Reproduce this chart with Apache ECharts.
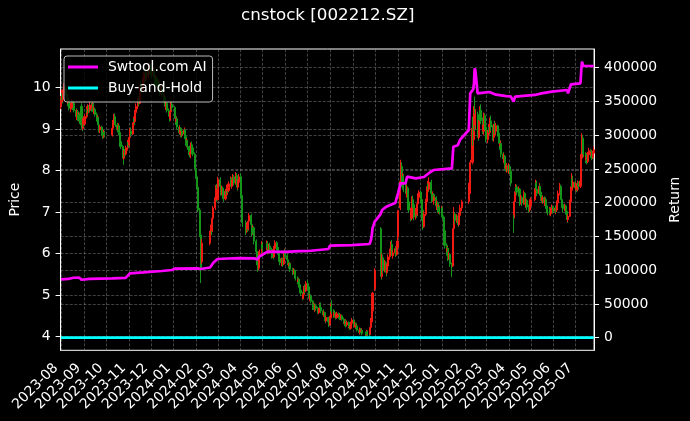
<!DOCTYPE html>
<html><head><meta charset="utf-8">
<script src="https://cdn.jsdelivr.net/npm/echarts@6/dist/echarts.min.js"></script>
<style>html,body{margin:0;padding:0;background:#000;}#c{width:690px;height:421px;}</style>
</head><body><div id="c"></div>
<script>
// Daily candles per month: [day, open, close, low, high]
const m2023_07 = [[31,9.55,9.72,9.48,9.80]];
const m2023_08 = [[1,9.72,9.85,9.66,9.95],[2,9.85,9.70,9.62,9.90],[3,9.70,9.88,9.65,9.96],[4,9.88,10.02,9.80,10.10],[7,10.00,9.86,9.80,10.06],[8,9.86,9.74,9.66,9.90],[9,9.74,9.62,9.55,9.78],[10,9.62,9.70,9.52,9.76],[11,9.70,9.50,9.45,9.74],[14,9.48,9.58,9.40,9.63],[15,9.58,9.66,9.50,9.72],[16,9.66,9.52,9.46,9.70],[17,9.52,9.62,9.45,9.68],[18,9.62,9.45,9.40,9.66],[21,9.45,9.30,9.25,9.50],[22,9.30,9.42,9.22,9.48],[23,9.42,9.25,9.20,9.46],[24,9.25,9.35,9.18,9.40],[25,9.35,9.20,9.12,9.40],[28,9.55,9.10,9.02,9.62],[29,9.10,9.02,8.95,9.18],[30,9.02,9.20,8.98,9.26],[31,9.20,9.12,9.05,9.28]];
const m2023_09 = [[1,9.12,9.30,9.08,9.36],[4,9.30,9.48,9.25,9.55],[5,9.48,9.40,9.33,9.55],[6,9.40,9.52,9.36,9.60],[7,9.52,9.45,9.38,9.58],[8,9.45,9.58,9.40,9.65],[11,9.58,9.50,9.42,9.64],[12,9.50,9.60,9.45,9.66],[13,9.60,9.42,9.38,9.63],[14,9.42,9.48,9.36,9.55],[15,9.48,9.35,9.30,9.52],[18,9.35,9.22,9.18,9.40],[19,9.22,9.28,9.15,9.33],[20,9.28,9.10,9.05,9.30],[21,9.10,8.98,8.92,9.14],[22,8.98,9.05,8.90,9.10],[25,9.05,8.90,8.84,9.08],[26,8.90,8.82,8.76,8.95],[27,8.82,8.92,8.78,8.98],[28,8.92,8.86,8.80,8.96]];
const m2023_10 = [[9,8.86,9.02,8.82,9.08],[10,9.02,9.15,8.98,9.22],[11,9.15,9.30,9.10,9.36],[12,9.30,9.22,9.15,9.38],[13,9.22,9.10,9.05,9.28],[16,9.10,8.98,8.92,9.15],[17,8.98,9.08,8.94,9.14],[18,9.08,8.92,8.86,9.10],[19,8.92,8.70,8.66,8.95],[20,8.70,8.58,8.52,8.76],[23,8.58,8.36,8.30,8.62],[24,8.36,8.30,8.14,8.45],[25,8.30,8.45,8.26,8.50],[26,8.45,8.40,8.34,8.52],[27,8.40,8.55,8.36,8.60],[30,8.55,8.68,8.48,8.74],[31,8.68,8.62,8.55,8.75]];
const m2023_11 = [[1,8.62,8.80,8.58,8.86],[2,8.80,8.95,8.74,9.02],[3,8.95,8.88,8.82,9.04],[6,8.88,9.10,8.86,9.16],[7,9.10,9.25,9.05,9.30],[8,9.25,9.18,9.10,9.32],[9,9.18,9.40,9.15,9.46],[10,9.40,9.55,9.35,9.62],[13,9.55,9.68,9.48,9.75],[14,9.68,9.62,9.55,9.78],[15,9.62,9.85,9.60,9.92],[16,9.85,10.05,9.80,10.12],[17,10.05,9.96,9.90,10.15],[20,9.96,10.18,9.92,10.25],[21,10.18,10.30,10.10,10.38],[22,10.30,10.20,10.12,10.36],[23,10.20,10.35,10.15,10.42],[24,10.35,10.28,10.20,10.45],[27,10.28,10.45,10.22,10.52],[28,10.45,10.36,10.30,10.55],[29,10.36,10.50,10.32,10.60],[30,10.50,10.40,10.32,10.56]];
const m2023_12 = [[1,10.40,10.30,10.22,10.48],[4,10.30,10.42,10.25,10.50],[5,10.42,10.25,10.18,10.45],[6,10.25,10.15,10.08,10.32],[7,10.15,10.22,10.06,10.30],[8,10.22,10.05,10.00,10.28],[11,10.05,10.12,9.98,10.20],[12,10.12,9.95,9.90,10.15],[13,9.95,9.88,9.80,10.02],[14,9.88,9.98,9.82,10.05],[15,9.98,9.85,9.78,10.02],[18,9.85,9.70,9.64,9.88],[19,9.70,9.78,9.62,9.84],[20,9.78,9.55,9.50,9.80],[21,9.55,9.62,9.46,9.68],[22,9.62,9.45,9.40,9.66],[25,9.45,9.38,9.30,9.50],[26,9.38,9.25,9.18,9.42],[27,9.25,9.42,9.20,9.48],[28,9.42,9.60,9.38,9.68],[29,9.60,9.52,9.45,9.66]];
const m2024_01 = [[2,9.52,9.30,9.25,9.56],[3,9.30,9.18,9.10,9.35],[4,9.18,9.25,9.08,9.30],[5,9.25,9.05,9.00,9.28],[8,9.05,8.92,8.86,9.10],[9,8.92,9.02,8.88,9.08],[10,9.02,8.85,8.80,9.05],[11,8.85,8.95,8.80,9.00],[12,8.95,8.88,8.82,9.00],[15,8.88,8.98,8.84,9.04],[16,8.98,8.82,8.76,9.00],[17,8.82,8.65,8.60,8.85],[18,8.65,8.72,8.56,8.78],[19,8.72,8.58,8.50,8.75],[22,8.58,8.38,8.32,8.60],[23,8.38,8.45,8.30,8.52],[24,8.45,8.62,8.40,8.68],[25,8.62,8.55,8.48,8.70],[26,8.55,8.40,8.35,8.58],[29,8.40,8.20,8.15,8.44],[30,8.20,8.05,7.98,8.24],[31,8.05,7.85,7.80,8.10]];
const m2024_02 = [[1,7.85,7.60,7.55,7.90],[2,7.60,7.05,7.00,7.65],[5,7.05,6.45,6.40,7.10],[6,6.45,5.95,5.29,6.60],[7,5.95,5.80,5.60,6.30],[8,5.80,6.25,5.75,6.35],[19,6.25,6.45,6.20,6.55],[20,6.45,6.62,6.40,6.70],[21,6.62,6.55,6.45,6.72],[22,6.55,6.85,6.52,6.90],[23,6.85,7.10,6.80,7.15],[26,7.10,7.35,7.05,7.42],[27,7.35,7.60,7.30,7.65],[28,7.60,7.30,7.25,7.68],[29,7.30,7.55,7.28,7.62]];
const m2024_03 = [[1,7.55,7.78,7.50,7.85],[4,7.78,7.62,7.55,7.84],[5,7.62,7.45,7.40,7.68],[6,7.45,7.58,7.40,7.64],[7,7.58,7.40,7.35,7.62],[8,7.40,7.32,7.25,7.46],[11,7.32,7.50,7.28,7.56],[12,7.50,7.42,7.36,7.58],[13,7.42,7.60,7.38,7.66],[14,7.60,7.52,7.45,7.66],[15,7.52,7.68,7.48,7.74],[18,7.68,7.80,7.62,7.86],[19,7.80,7.62,7.58,7.84],[20,7.62,7.72,7.56,7.78],[21,7.72,7.85,7.66,7.92],[22,7.85,7.70,7.64,7.90],[25,7.70,7.88,7.66,7.96],[26,7.88,7.75,7.70,7.94],[27,7.75,7.60,7.52,7.80],[28,7.60,7.72,7.55,7.78],[29,7.72,7.85,7.68,7.92]];
const m2024_04 = [[1,7.85,7.40,7.35,7.94],[2,7.40,6.95,6.90,7.45],[3,6.95,6.75,6.64,7.05],[8,6.75,6.55,6.45,6.80],[9,6.55,6.68,6.50,6.75],[10,6.68,6.60,6.52,6.78],[11,6.60,6.78,6.56,6.85],[12,6.78,6.92,6.72,6.98],[15,6.92,6.70,6.65,6.96],[16,6.70,6.50,6.42,6.74],[17,6.50,6.62,6.45,6.68],[18,6.62,6.48,6.40,6.66],[19,6.48,6.30,6.22,6.52],[22,6.30,6.05,6.00,6.34],[23,6.05,5.80,5.72,6.10],[24,5.80,5.65,5.56,5.86],[25,5.65,5.85,5.60,5.90],[26,5.85,6.05,5.80,6.10],[29,6.05,6.22,6.00,6.30],[30,6.22,6.12,6.05,6.28]];
const m2024_05 = [[6,6.12,6.25,6.08,6.32],[7,6.25,6.15,6.08,6.30],[8,6.15,6.05,5.98,6.20],[9,6.05,6.18,6.00,6.24],[10,6.18,6.10,6.02,6.26],[13,6.10,5.95,5.88,6.14],[14,5.95,6.05,5.90,6.10],[15,6.05,5.92,5.86,6.08],[16,5.92,6.12,5.90,6.18],[17,6.12,6.26,6.08,6.32],[20,6.26,6.15,6.08,6.30],[21,6.15,6.05,5.98,6.20],[22,6.05,5.98,5.92,6.10],[23,5.98,5.88,5.80,6.02],[24,5.88,5.78,5.72,5.92],[27,5.78,5.85,5.70,5.90],[28,5.85,5.75,5.68,5.90],[29,5.75,5.92,5.72,5.98],[30,5.92,6.05,5.88,6.12],[31,6.05,5.95,5.90,6.10]];
const m2024_06 = [[3,5.95,5.85,5.80,6.00],[4,5.85,5.78,5.72,5.90],[5,5.78,5.70,5.64,5.82],[6,5.70,5.76,5.65,5.80],[7,5.76,5.62,5.56,5.78],[11,5.62,5.55,5.48,5.66],[12,5.55,5.60,5.50,5.65],[13,5.60,5.48,5.42,5.62],[14,5.48,5.40,5.35,5.52],[17,5.40,5.32,5.26,5.45],[18,5.32,5.38,5.28,5.42],[19,5.38,5.25,5.18,5.40],[20,5.25,5.12,5.08,5.28],[21,5.12,5.05,4.98,5.16],[24,5.05,4.92,4.88,5.08],[25,4.92,5.02,4.90,5.06],[26,5.02,5.18,4.98,5.22],[27,5.18,5.10,5.05,5.26],[28,5.10,5.28,5.08,5.34]];
const m2024_07 = [[1,5.28,5.20,5.12,5.36],[2,5.20,5.05,5.00,5.24],[3,5.05,4.92,4.86,5.08],[4,4.92,4.98,4.85,5.02],[5,4.98,4.85,4.80,5.02],[8,4.85,4.70,4.64,4.88],[9,4.70,4.78,4.66,4.82],[10,4.78,4.65,4.60,4.80],[11,4.65,4.74,4.60,4.78],[12,4.74,4.68,4.62,4.78],[15,4.68,4.58,4.55,4.72],[16,4.58,4.66,4.54,4.70],[17,4.66,4.78,4.62,4.82],[18,4.78,4.70,4.64,4.82],[19,4.70,4.62,4.56,4.74],[22,4.62,4.52,4.48,4.66],[23,4.52,4.58,4.48,4.62],[24,4.58,4.45,4.40,4.60],[25,4.45,4.38,4.32,4.48],[26,4.38,4.46,4.34,4.50],[29,4.46,4.36,4.30,4.48],[30,4.36,4.28,4.23,4.40],[31,4.28,4.45,4.26,4.50]];
const m2024_08 = [[1,4.45,4.72,4.42,4.80],[2,4.72,4.62,4.55,4.88],[5,4.62,4.50,4.45,4.66],[6,4.50,4.58,4.46,4.62],[7,4.58,4.52,4.47,4.63],[8,4.52,4.46,4.41,4.56],[9,4.46,4.55,4.43,4.60],[12,4.55,4.48,4.43,4.58],[13,4.48,4.52,4.44,4.56],[14,4.52,4.44,4.40,4.55],[15,4.44,4.50,4.40,4.54],[16,4.50,4.42,4.38,4.53],[19,4.42,4.36,4.30,4.46],[20,4.36,4.30,4.25,4.40],[21,4.30,4.38,4.27,4.42],[22,4.38,4.28,4.22,4.40],[23,4.28,4.34,4.24,4.38],[26,4.34,4.25,4.20,4.37],[27,4.25,4.20,4.16,4.29],[28,4.20,4.26,4.17,4.30],[29,4.26,4.32,4.22,4.36],[30,4.32,4.40,4.28,4.45]];
const m2024_09 = [[2,4.40,4.28,4.24,4.42],[3,4.28,4.32,4.22,4.36],[4,4.32,4.22,4.18,4.34],[5,4.22,4.26,4.18,4.30],[6,4.26,4.16,4.12,4.28],[9,4.16,4.10,4.05,4.19],[10,4.10,4.18,4.06,4.22],[11,4.18,4.12,4.08,4.21],[12,4.12,4.15,4.07,4.20],[13,4.15,4.08,4.03,4.17],[18,4.08,4.02,4.00,4.12],[19,4.02,4.12,4.00,4.16],[20,4.12,4.06,4.02,4.15],[23,4.06,4.04,4.00,4.10],[24,4.06,4.22,4.04,4.26],[25,4.22,4.35,4.20,4.45],[26,4.35,4.62,4.32,4.66],[27,4.62,5.05,4.58,5.08],[30,5.15,5.60,5.10,5.65]];
const m2024_10 = [[8,6.60,6.00,5.90,6.64],[9,6.00,5.45,5.37,6.05],[10,5.45,5.90,5.40,6.00],[11,5.90,5.60,5.52,5.98],[14,5.60,5.78,5.55,5.85],[15,5.78,5.62,5.55,5.82],[16,5.62,5.55,5.45,5.68],[17,5.55,5.70,5.50,5.76],[18,5.70,5.92,5.66,5.98],[21,5.92,6.05,5.85,6.12],[22,6.05,6.22,6.00,6.30],[23,6.22,6.10,6.02,6.33],[24,6.10,5.95,5.90,6.14],[25,5.95,6.02,5.88,6.08],[28,6.02,6.12,5.96,6.18],[29,6.12,5.98,5.92,6.16],[30,5.98,6.15,5.95,6.20],[31,6.15,6.30,6.10,6.38]];
const m2024_11 = [[1,6.40,7.04,6.35,7.04],[4,7.10,7.74,7.05,7.74],[5,7.74,8.10,7.60,8.26],[6,8.10,7.70,7.60,8.20],[7,7.70,7.85,7.55,7.95],[8,7.85,7.55,7.48,7.92],[11,7.55,7.70,7.45,7.78],[12,7.70,7.45,7.38,7.75],[13,7.45,7.58,7.35,7.65],[14,7.58,7.25,7.18,7.62],[15,7.25,7.05,6.98,7.30],[18,7.05,6.85,6.78,7.10],[19,6.85,7.10,6.80,7.18],[20,7.10,7.30,7.05,7.38],[21,7.30,7.18,7.10,7.40],[22,7.18,6.88,6.80,7.22],[25,6.88,7.02,6.82,7.10],[26,7.02,6.95,6.86,7.08],[27,6.95,7.20,6.90,7.26],[28,7.20,7.35,7.12,7.45],[29,7.35,7.48,7.28,7.53]];
const m2024_12 = [[2,7.48,7.30,7.22,7.52],[3,7.30,7.05,6.98,7.35],[4,7.05,6.80,6.70,7.08],[5,6.80,6.65,6.57,6.88],[6,6.65,6.95,6.62,7.02],[9,6.95,7.25,6.90,7.32],[10,7.25,7.50,7.20,7.62],[11,7.50,7.68,7.42,7.75],[12,7.68,7.55,7.48,7.80],[13,7.55,7.72,7.50,7.84],[16,7.72,7.45,7.38,7.78],[17,7.45,7.30,7.22,7.50],[18,7.30,7.42,7.25,7.50],[19,7.42,7.28,7.20,7.46],[20,7.28,7.35,7.18,7.40],[23,7.35,7.15,7.08,7.38],[24,7.15,7.22,7.05,7.28],[25,7.22,7.05,6.98,7.26],[26,7.05,7.12,6.96,7.18],[27,7.12,7.00,6.94,7.16],[30,7.00,7.10,6.92,7.15],[31,7.10,6.88,6.82,7.12]];
const m2025_01 = [[2,6.88,6.55,6.48,6.92],[3,6.55,6.20,6.12,6.60],[6,6.20,6.05,5.95,6.25],[7,6.05,6.12,5.96,6.18],[8,6.12,5.90,5.82,6.16],[9,5.90,5.98,5.85,6.04],[10,5.98,5.75,5.68,6.00],[13,5.75,5.70,5.44,5.78],[14,5.70,6.27,5.68,6.27],[15,6.27,6.60,6.20,6.80],[16,6.60,6.95,6.55,7.12],[17,6.95,6.80,6.72,7.00],[20,6.80,6.88,6.74,6.95],[21,6.88,6.76,6.70,6.92],[22,6.76,6.70,6.64,6.82],[23,6.70,6.92,6.66,6.98],[24,6.92,7.10,6.88,7.18],[27,7.10,7.25,7.02,7.30]];
const m2025_02 = [[5,7.25,7.45,7.20,7.52],[6,7.45,7.70,7.40,7.75],[7,7.70,8.20,7.65,8.26],[10,8.20,9.02,8.15,9.02],[11,9.02,8.75,8.60,9.30],[12,8.75,9.40,8.70,9.55],[13,9.40,9.10,8.95,9.78],[14,9.10,9.35,9.00,9.48],[17,9.35,9.05,8.95,9.42],[18,9.05,8.80,8.72,9.10],[19,8.80,9.15,8.76,9.22],[20,9.15,9.45,9.10,9.55],[21,9.45,9.20,9.12,9.60],[24,9.20,8.95,8.88,9.28],[25,8.95,9.10,8.85,9.18],[26,9.10,9.32,9.05,9.40],[27,9.32,9.05,8.98,9.38],[28,9.05,8.75,8.68,9.10]];
const m2025_03 = [[3,8.75,8.90,8.66,8.98],[4,8.90,9.05,8.80,9.12],[5,9.05,8.92,8.85,9.15],[6,8.92,9.20,8.88,9.28],[7,9.20,9.05,8.95,9.33],[10,9.05,8.80,8.72,9.10],[11,8.80,8.95,8.70,9.02],[12,8.95,9.12,8.90,9.20],[13,9.12,8.95,8.88,9.18],[14,8.95,9.08,8.86,9.15],[17,9.08,8.90,8.82,9.11],[18,8.90,8.72,8.65,8.95],[19,8.72,8.60,8.50,8.78],[20,8.60,8.65,8.52,8.72],[21,8.65,8.40,8.32,8.67],[24,8.40,8.28,8.20,8.45],[25,8.28,8.35,8.18,8.42],[26,8.35,8.15,8.08,8.38],[27,8.15,8.05,7.98,8.22],[28,8.05,8.12,7.95,8.18],[31,8.12,7.98,7.92,8.15]];
const m2025_04 = [[1,7.98,8.10,7.92,8.18],[2,8.10,7.98,7.92,8.14],[3,7.98,7.70,7.62,8.00],[7,7.20,6.93,6.50,7.25],[8,6.93,7.25,6.85,7.30],[9,7.25,7.45,7.05,7.50],[10,7.45,7.60,7.38,7.68],[11,7.60,7.48,7.40,7.66],[14,7.48,7.55,7.40,7.62],[15,7.55,7.38,7.30,7.58],[16,7.38,7.25,7.15,7.42],[17,7.25,7.35,7.18,7.42],[18,7.35,7.22,7.15,7.40],[21,7.22,7.45,7.18,7.52],[22,7.45,7.30,7.22,7.48],[23,7.30,7.18,7.10,7.35],[24,7.18,7.28,7.12,7.34],[25,7.28,7.12,7.05,7.32],[28,7.12,7.05,6.98,7.18],[29,7.05,7.15,7.00,7.22],[30,7.15,7.30,7.10,7.36]];
const m2025_05 = [[6,7.30,7.52,7.26,7.58],[7,7.52,7.70,7.45,7.78],[8,7.70,7.55,7.48,7.76],[9,7.55,7.45,7.38,7.60],[12,7.45,7.62,7.40,7.70],[13,7.62,7.48,7.40,7.66],[14,7.48,7.40,7.32,7.52],[15,7.40,7.28,7.22,7.45],[16,7.28,7.35,7.20,7.40],[19,7.35,7.22,7.15,7.38],[20,7.22,7.30,7.15,7.35],[21,7.30,7.15,7.08,7.32],[22,7.15,7.05,6.98,7.18],[23,7.05,6.98,6.92,7.10],[26,6.98,7.08,6.92,7.12],[27,7.08,6.96,6.90,7.12],[28,6.96,7.05,6.90,7.10],[29,7.05,7.12,6.98,7.18],[30,7.12,7.02,6.96,7.16]];
const m2025_06 = [[3,7.02,7.10,6.95,7.15],[4,7.10,7.05,6.98,7.16],[5,7.05,7.22,7.00,7.28],[6,7.22,7.45,7.18,7.52],[9,7.45,7.62,7.40,7.70],[10,7.62,7.40,7.32,7.66],[11,7.40,7.30,7.22,7.45],[12,7.30,7.18,7.10,7.36],[13,7.18,7.08,7.00,7.22],[16,7.08,7.15,7.02,7.20],[17,7.15,7.02,6.95,7.18],[18,7.02,6.95,6.88,7.06],[19,6.95,6.82,6.74,6.98],[20,6.82,6.90,6.76,6.95],[23,6.90,7.25,6.88,7.30],[24,7.25,7.55,7.20,7.62],[25,7.55,7.80,7.50,7.94],[26,7.80,7.60,7.55,7.88],[27,7.60,7.72,7.52,7.78],[30,7.72,7.58,7.50,7.76]];
const m2025_07 = [[1,7.58,7.65,7.50,7.72],[2,7.65,7.55,7.48,7.70],[3,7.55,7.68,7.50,7.76],[4,7.68,7.62,7.55,7.74],[7,7.62,7.75,7.58,7.80],[8,7.75,8.30,7.70,8.40],[9,8.30,8.78,8.25,8.90],[10,8.78,8.55,8.48,8.86],[11,8.55,8.40,8.32,8.62],[14,8.40,8.25,8.18,8.45],[15,8.25,8.35,8.18,8.42],[16,8.35,8.22,8.15,8.40],[17,8.22,8.38,8.18,8.45],[18,8.38,8.48,8.30,8.55],[21,8.48,8.36,8.30,8.52],[22,8.36,8.45,8.30,8.50],[23,8.45,8.32,8.25,8.48],[24,8.32,8.42,8.28,8.48],[25,8.42,8.50,8.35,8.58]];

const monthKeys = ['2023-07','2023-08','2023-09','2023-10','2023-11','2023-12','2024-01','2024-02','2024-03','2024-04','2024-05','2024-06','2024-07','2024-08','2024-09','2024-10','2024-11','2024-12','2025-01','2025-02','2025-03','2025-04','2025-05','2025-06','2025-07'];
const monthData = [m2023_07,m2023_08,m2023_09,m2023_10,m2023_11,m2023_12,m2024_01,m2024_02,m2024_03,m2024_04,m2024_05,m2024_06,m2024_07,m2024_08,m2024_09,m2024_10,m2024_11,m2024_12,m2025_01,m2025_02,m2025_03,m2025_04,m2025_05,m2025_06,m2025_07];

// Strategy return line (read at turning points)
const aiDates = ['2023-07-31','2023-08-10','2023-08-17','2023-08-25','2023-08-28','2023-09-08','2023-10-09','2023-10-27','2023-10-30','2023-11-02','2023-11-20','2023-12-15','2023-12-29','2024-01-02','2024-02-02','2024-02-06','2024-02-08','2024-02-19','2024-02-23','2024-02-29','2024-03-15','2024-03-29','2024-04-19','2024-04-23','2024-04-26','2024-05-07','2024-05-31','2024-06-20','2024-07-02','2024-07-03','2024-07-29','2024-07-31','2024-08-30','2024-09-23','2024-09-24','2024-09-25','2024-09-26','2024-09-27','2024-09-30','2024-10-08','2024-10-10','2024-10-16','2024-10-21','2024-10-28','2024-11-01','2024-11-04','2024-11-11','2024-11-13','2024-11-25','2024-12-06','2024-12-13','2024-12-19','2025-01-13','2025-01-15','2025-01-17','2025-01-21','2025-01-24','2025-02-05','2025-02-06','2025-02-07','2025-02-11','2025-02-12','2025-02-13','2025-02-14','2025-02-17','2025-03-05','2025-03-14','2025-03-28','2025-04-03','2025-04-07','2025-04-09','2025-05-06','2025-05-15','2025-05-29','2025-06-19','2025-06-20','2025-06-24','2025-07-07','2025-07-08','2025-07-09','2025-07-11','2025-07-25'];
const aiValues = [86500,87000,88800,88900,85800,87200,87800,88600,92000,95400,96800,98800,100300,102200,102600,101800,102500,104000,110500,116600,117300,117800,117600,115800,120000,127400,127000,128200,128400,131000,131400,136300,137200,138800,137500,145000,152000,162000,172000,183000,189200,194100,196600,199600,215000,228700,228700,238500,236100,238000,244000,248400,250900,283000,281500,285000,293000,307700,335000,362000,368000,376000,399000,396000,362000,364000,360000,358000,357500,349600,357000,359600,362000,364500,367000,362000,375400,376900,395000,408900,402500,402500];
const bhDates = ['2023-07-31','2024-07-31','2025-07-25'];
const bhValues = [0,0,0];

const priceTicks = [4,5,6,7,8,9,10];
const returnTicks = [0,50000,100000,150000,200000,250000,300000,350000,400000];
const seriesNames = ['Swtool.com AI','Buy-and-Hold'];
const titleText = 'cnstock [002212.SZ]';

// calendar-day category axis
const days = [];
for (let t = Date.UTC(2023,6,31); t <= Date.UTC(2025,6,25); t += 86400000) days.push(new Date(t).toISOString().slice(0,10));
const dayIndex = {};
days.forEach((d,i) => dayIndex[d] = i);
const candleRows = days.map(() => ['-','-','-','-']);
monthKeys.forEach((mk,k) => monthData[k].forEach(r => {
  const ds = mk + '-' + String(r[0]).padStart(2,'0');
  candleRows[dayIndex[ds]] = [r[1], r[2], r[3], r[4]];
}));
const aiData = aiDates.map((d,i) => [dayIndex[d], aiValues[i]]);
const bhData = bhDates.map((d,i) => [dayIndex[d], bhValues[i]]);

const isMonthStart = (i, v) => v.slice(8) === '01';
const FONT = 'DejaVu Sans';
const gridLine = { show: true, lineStyle: { color: 'rgba(150,150,150,0.55)', width: 0.8, type: [3, 1.6] } };

const chart = echarts.init(document.getElementById('c'), null, { renderer: 'canvas' });
chart.setOption({
  animation: false,
  backgroundColor: '#000',
  textStyle: { fontFamily: FONT },
  title: { text: titleText, left: 241, top: 7, padding: 0,
    textStyle: { color: '#fff', fontSize: 16.7, fontWeight: 'normal', fontFamily: FONT } },
  legend: {
    orient: 'vertical', left: 64, top: 56, padding: [3, 6, 6, 4], itemGap: 5,
    itemWidth: 30, itemHeight: 3, icon: 'rect',
    backgroundColor: 'rgba(0,0,0,0.8)', borderColor: '#bbb', borderWidth: 1, borderRadius: 3,
    textStyle: { color: '#fff', fontSize: 13.9, fontFamily: FONT, lineHeight: 16, padding: [0,0,0,5] },
    data: seriesNames
  },
  grid: { left: 58, top: 49, width: 539.6, height: 301.3, show: true, borderColor: '#fff', borderWidth: 1, backgroundColor: '#000' },
  xAxis: {
    type: 'category', data: days, boundaryGap: true,
    axisLine: { lineStyle: { color: '#fff', width: 1 } },
    axisTick: { interval: isMonthStart, alignWithLabel: true, length: 5, lineStyle: { color: '#fff' } },
    axisLabel: { interval: isMonthStart, rotate: 45, margin: 10, padding: [0, 8, 0, 0],
      formatter: v => v.slice(0,7), color: '#fff', fontSize: 13.9, fontFamily: FONT },
    splitLine: Object.assign({ interval: isMonthStart }, gridLine)
  },
  yAxis: [{
    type: 'value', position: 'left', min: 3.67, max: 10.93, scale: true,
    name: 'Price', nameLocation: 'middle', nameGap: 34, nameRotate: 90,
    nameTextStyle: { color: '#fff', fontSize: 13.9, fontFamily: FONT },
    axisLine: { show: true, lineStyle: { color: '#fff' } },
    axisTick: { show: true, length: 5, customValues: priceTicks, lineStyle: { color: '#fff' } },
    axisLabel: { customValues: priceTicks, margin: 10, color: '#fff', fontSize: 13.9, fontFamily: FONT,
      formatter: v => String(v) },
    splitLine: gridLine
  }, {
    type: 'value', position: 'right', min: -18700, max: 427700,
    name: 'Return', nameLocation: 'middle', nameGap: 69, nameRotate: 90,
    nameTextStyle: { color: '#fff', fontSize: 13.9, fontFamily: FONT },
    axisLine: { show: true, lineStyle: { color: '#fff' } },
    axisTick: { show: true, length: 5, customValues: returnTicks, lineStyle: { color: '#fff' } },
    axisLabel: { customValues: returnTicks, margin: 10, color: '#fff', fontSize: 13.9, fontFamily: FONT,
      formatter: v => String(Math.round(v)) },
    splitLine: gridLine
  }],
  series: [{
    type: 'candlestick', name: 'Price', data: candleRows, large: false, xAxisIndex: 0, yAxisIndex: 0,
    barWidth: 1.6, z: 2,
    itemStyle: { color: '#f01a12', color0: '#14961a', borderColor: '#f01a12', borderColor0: '#14961a', borderWidth: 1 }
  }, {
    type: 'line', name: seriesNames[0], data: aiData, yAxisIndex: 1, symbol: 'none', z: 3,
    color: '#ff00ff', lineStyle: { color: '#ff00ff', width: 2.7 }
  }, {
    type: 'line', name: seriesNames[1], data: bhData, yAxisIndex: 1, symbol: 'none', z: 3,
    color: '#00ffff', lineStyle: { color: '#00ffff', width: 2.7 }
  }]
});
</script></body></html>
